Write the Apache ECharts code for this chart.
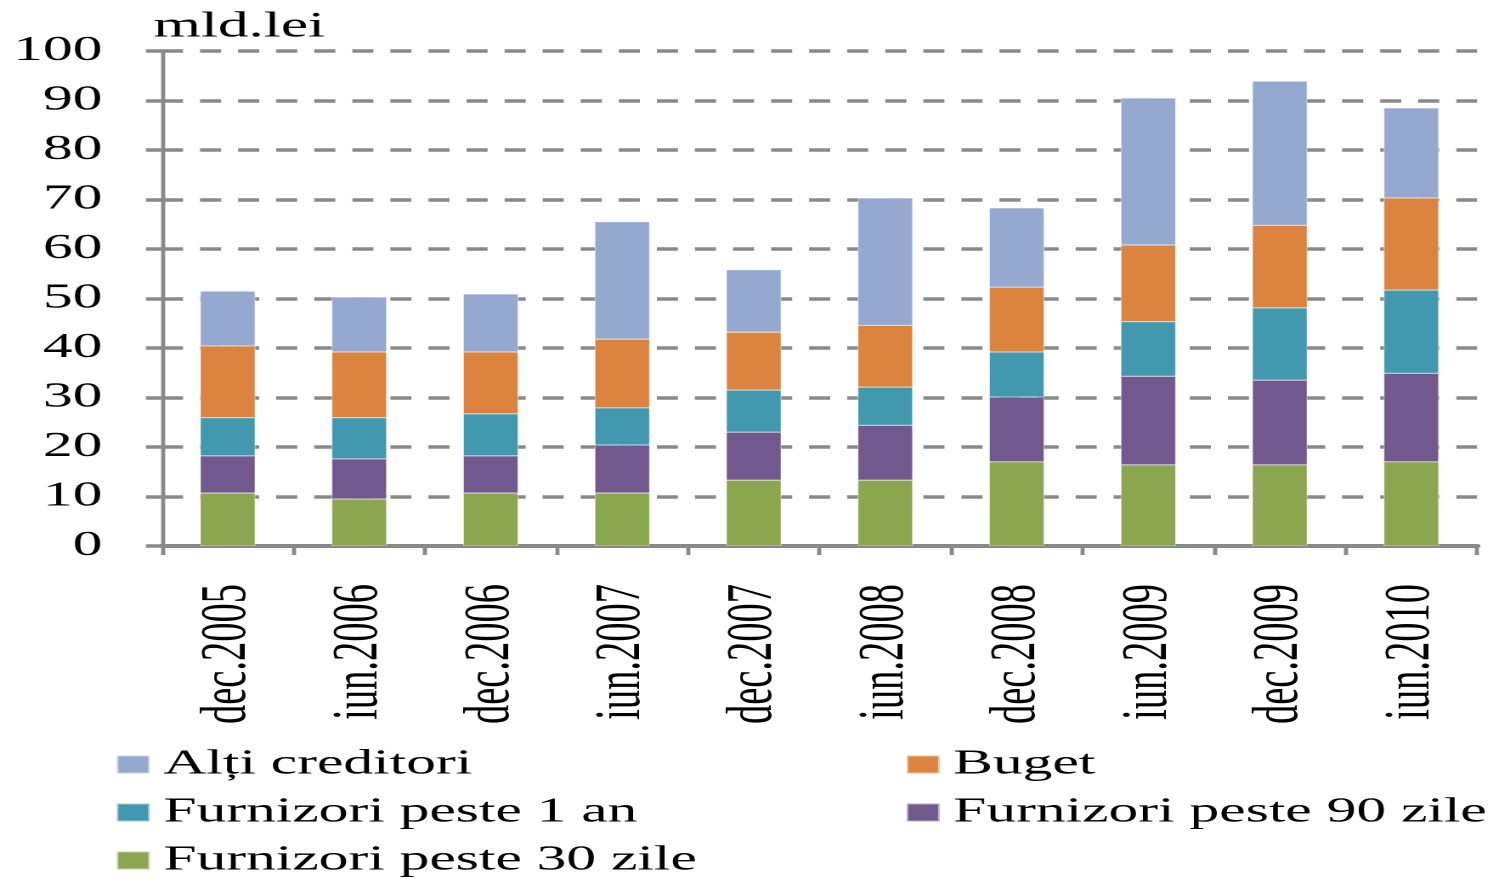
<!DOCTYPE html>
<html>
<head>
<meta charset="utf-8">
<script src="https://cdn.jsdelivr.net/npm/echarts@6/dist/echarts.min.js"></script>
<style>
  html, body { margin: 0; padding: 0; overflow: hidden; background: #fff; }
  /* the reference is a horizontally stretched picture, so draw narrow and stretch */
  #chart {
    width: 882px;
    height: 879px;
    transform: scaleX(1.6995);
    transform-origin: 0 0;
  }
</style>
</head>
<body>
<div id="chart"></div>
<script>
const categories = ["dec.2005", "iun.2006", "dec.2006", "iun.2007", "dec.2007",
  "iun.2008", "dec.2008", "iun.2009", "dec.2009", "iun.2010"];
const furnizori30 = [10.7, 9.5, 10.7, 10.7, 13.3, 13.3, 17.0, 16.4, 16.4, 17.0];
const furnizori90 = [7.5, 8.1, 7.5, 9.7, 9.7, 11.1, 13.1, 17.9, 17.1, 17.9];
const furnizori1an = [7.7, 8.3, 8.5, 7.5, 8.5, 7.7, 9.1, 11.0, 14.6, 16.8];
const buget = [14.5, 13.3, 12.5, 13.9, 11.7, 12.5, 13.1, 15.5, 16.7, 18.6];
const altiCreditori = [11.1, 11.1, 11.7, 23.7, 12.6, 25.7, 16.0, 29.7, 29.1, 18.2];

const font = "'Liberation Serif', 'Times New Roman', serif";
const axisGray = "#898989";

const chart = echarts.init(document.getElementById("chart"), null, { devicePixelRatio: 2 });

function bar(name, data, color) {
  return {
    name: name,
    type: "bar",
    stack: "total",
    data: data,
    barWidth: "42%",
    itemStyle: { color: color, borderColor: "rgba(255,255,255,0.5)", borderWidth: 0.5 }
  };
}

const legendText = {
  fontFamily: font,
  fontSize: 35,
  lineHeight: 35,
  color: "#000",
  padding: [0, 0, 0, 3]
};

function legendColumn(left, names) {
  return {
    orient: "vertical",
    left: left,
    top: 747,
    height: 132,
    padding: 0,
    itemWidth: 19.4,
    itemHeight: 18,
    itemGap: 13,
    icon: "rect",
    textStyle: legendText,
    data: names
  };
}

const option = {
  animation: false,
  grid: {
    left: 95.3,
    right: 12.9,
    top: 51,
    bottom: 333
  },
  legend: [
    legendColumn(67.7, ["Alți creditori", "Furnizori peste 1 an", "Furnizori peste 30 zile"]),
    legendColumn(532.5, ["Buget", "Furnizori peste 90 zile"])
  ],
  xAxis: {
    type: "category",
    data: categories,
    boundaryGap: true,
    axisLine: { lineStyle: { color: axisGray, width: 4 } },
    axisTick: {
      show: true,
      interval: 0,
      alignWithLabel: false,
      length: 9,
      lineStyle: { color: axisGray, width: 2.4 }
    },
    axisLabel: {
      interval: 0,
      rotate: 90,
      margin: 38,
      fontFamily: font,
      fontSize: 38.5,
      color: "#000"
    }
  },
  yAxis: {
    type: "value",
    min: 0,
    max: 100,
    interval: 10,
    name: "mld.lei",
    nameLocation: "end",
    nameGap: 6,
    nameTextStyle: {
      fontFamily: font,
      fontSize: 36,
      color: "#000",
      align: "left",
      verticalAlign: "bottom",
      padding: [0, 0, 0, -5]
    },
    axisLine: { show: true, lineStyle: { color: axisGray, width: 2.4 } },
    axisTick: {
      show: true,
      length: 9.4,
      lineStyle: { color: axisGray, width: 3.5 }
    },
    axisLabel: {
      margin: 35,
      fontFamily: font,
      fontSize: 35,
      color: "#000",
      padding: [4, 0, 0, 0]
    },
    splitLine: {
      show: true,
      lineStyle: { color: axisGray, width: 3.5, type: [12.4, 10] }
    }
  },
  series: [
    bar("Furnizori peste 30 zile", furnizori30, "#8AA64E"),
    bar("Furnizori peste 90 zile", furnizori90, "#71598E"),
    bar("Furnizori peste 1 an", furnizori1an, "#4298AF"),
    bar("Buget", buget, "#DC843F"),
    bar("Alți creditori", altiCreditori, "#95A9D0")
  ]
};

chart.setOption(option);
</script>
</body>
</html>
